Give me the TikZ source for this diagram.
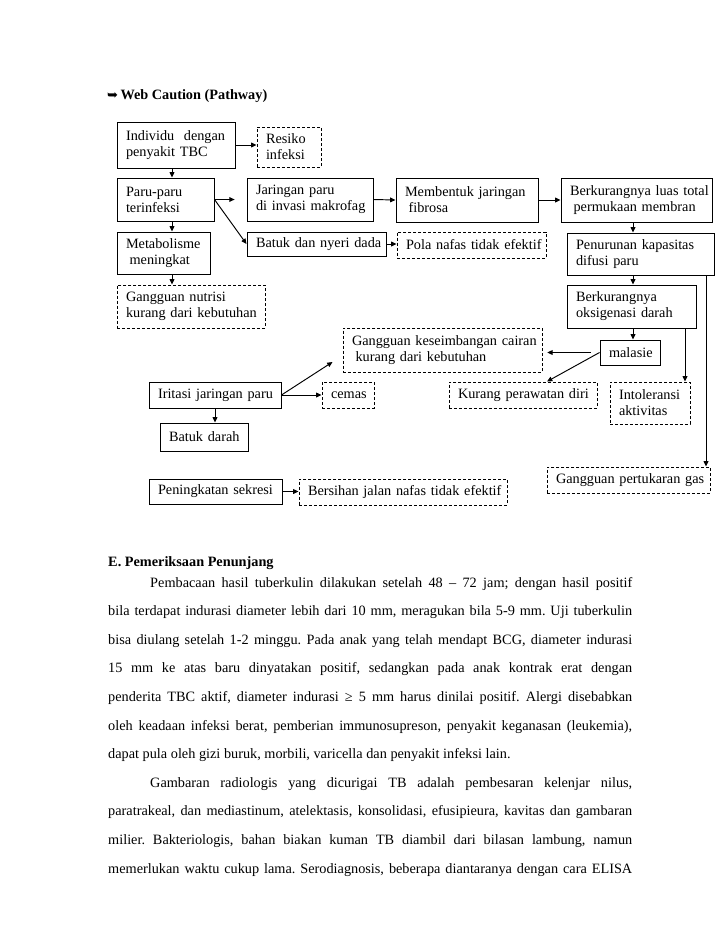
\documentclass[tikz,border=0pt]{standalone}
\usepackage{fontspec}
\setmainfont{Liberation Serif}
\newfontfamily\symfont{DejaVu Sans}
\usetikzlibrary{arrows.meta,calc}
\frenchspacing
\newdimen\pxu \pxu=0.8407pt
\newlength\bodyw \setlength\bodyw{440.5pt}
\newlength\indw \setlength\indw{405.2pt}
\newcommand\nohyph{\hyphenpenalty=10000\exhyphenpenalty=10000\relax}
\tikzset{
  box/.style 2 args={draw, line width=0.8pt, inner xsep=0pt, inner ysep=0pt,
    minimum width=#1*\pxu, minimum height=#2*\pxu, text width=#1*\pxu-18*\pxu,
    align=left, font=\fontsize{12}{13.5}\selectfont, execute at begin node=\nohyph},
  dbox/.style 2 args={box={#1}{#2}, dash pattern=on 2.6pt off 1.6pt},
  arr/.style={-{Triangle[length=4.5pt,width=4pt]}, line width=0.8pt},
  txt/.style={anchor=base west, inner sep=0pt, font=\fontsize{12}{14}\selectfont},
}

\begin{document}
\begin{tikzpicture}[x=0.8407pt,y=-0.8407pt]
  \fill[white] (0,0) rectangle (728,943);
  \useasboundingbox (0,0) rectangle (728,943);

  % title
  \node[txt] (ttl) at (107,99) {{\symfont\fontsize{11}{11}\selectfont ➥}\,\textbf{Web Caution (Pathway)}};

  % boxes
  \node[box={118}{46}] (ind) at (176,145) {Individu~~dengan\\penyakit~TBC};
  \node[dbox={64}{40}] (res) at (289,147) {Resiko\\infeksi};
  \node[box={97}{43}] (paru) at (165.5,199.5) {Paru-paru\\terinfeksi};
  \node[box={126}{43}] (jar) at (310,199.5) {Jaringan~paru\\di~invasi~makrofag};
  \node[box={142}{44}] (fib) at (467,200) {Membentuk~jaringan\\\hspace*{.25em}fibrosa};
  \node[box={151}{44}] (luas) at (636.5,200) {Berkurangnya~luas~total\\\hspace*{.25em}permukaan~membran};
  \node[box={93}{42}] (meta) at (163.5,253) {Metabolisme\\\hspace*{.25em}meningkat};
  \node[box={139}{24}] (btk) at (316.5,244) {Batuk~dan~nyeri~dada};
  \node[dbox={149}{26}] (pola) at (471.5,245) {Pola~nafas~tidak~efektif};
  \node[box={147}{42}] (difu) at (640.5,254) {Penurunan~kapasitas\\difusi~paru};
  \node[dbox={148}{43}] (nut) at (191,306.5) {Gangguan~nutrisi\\kurang~dari~kebutuhan};
  \node[box={129}{43}] (oks) at (631.5,306.5) {Berkurangnya\\oksigenasi~darah};
  \node[dbox={199}{44}] (cai) at (442.5,350) {Gangguan~keseimbangan~cairan\\\hspace*{.25em}kurang~dari~kebutuhan};
  \node[box={60}{25}] (mal) at (630,352.5) {malasie};
  \node[box={132}{26}] (iri) at (215,395) {Iritasi~jaringan~paru};
  \node[dbox={52}{26}] (cem) at (348,395) {cemas};
  \node[dbox={148}{26}] (raw) at (523,395) {Kurang~perawatan~diri};
  \node[dbox={80}{42}] (int) at (650,403) {Intoleransi\\aktivitas};
  \node[box={88}{28}] (bdr) at (204,437) {Batuk~darah};
  \node[dbox={163}{26}] (gas) at (628.5,480) {Gangguan~pertukaran~gas};
  \node[box={133}{25}] (sek) at (215.5,491.5) {Peningkatan~sekresi};
  \node[dbox={208}{26}] (ber) at (403,492) {Bersihan~jalan~nafas~tidak~efektif};

  % connector columns
  \coordinate (c1) at (172,0);
  \coordinate (c2) at (633,0);
  \coordinate (c3) at (685,0);
  \coordinate (c4) at (706,0);

  \draw[arr] (ind.east) -- (ind.east -| res.west);
  \draw[arr] (ind.south -| c1) -- (paru.north -| c1);
  \draw[arr] (paru.south -| c1) -- (meta.north -| c1);
  \draw[arr] (meta.south -| c1) -- (nut.north -| c1);
  \draw[arr, shorten >=10pt] (paru.east) -- (paru.east -| jar.west);
  \draw[arr] (paru.east) -- (btk.west);
  \draw[arr] (jar.east) -- (fib.west);
  \draw[arr] (fib.east) -- (luas.west);
  \draw[arr] (btk.east) -- (btk.east -| pola.west);
  \draw[arr] (luas.south -| c2) -- (difu.north -| c2);
  \draw[arr] (difu.south -| c2) -- (oks.north -| c2);
  \draw[arr] (oks.south -| c2) -- (mal.north -| c2);
  \draw[arr] (oks.south -| c3) -- (int.north -| c3);
  \draw[arr] (difu.south -| c4) -- (gas.north -| c4);
  \draw[arr, shorten <=7pt, shorten >=4pt] (mal.west) -- (mal.west -| cai.east);
  \draw[arr] (mal.west) -- ($(raw.north)+(24,0)$);
  \draw[arr] (iri.east) -- ($(cai.west)+(-10,12)$);
  \draw[arr] (iri.east) -- (cem.west);
  \draw[arr] (iri.south) -- (iri.south |- bdr.north);
  \draw[arr] (sek.east) -- (sek.east -| ber.west);

  % body text
  \node[txt] (hd) at (108,566) {\textbf{E. Pemeriksaan Penunjang}};
  \node[txt] (p1) at (150,587) {\makebox[\indw][s]{Pembacaan hasil tuberkulin dilakukan setelah 48 – 72 jam; dengan hasil positif}};
  \node[txt] (p2) at (108,615.6) {\makebox[\bodyw][s]{bila terdapat indurasi diameter lebih dari 10 mm, meragukan bila 5-9 mm. Uji tuberkulin}};
  \node[txt] (p3) at (108,644.2) {\makebox[\bodyw][s]{bisa diulang setelah 1-2 minggu. Pada anak yang telah mendapt BCG, diameter indurasi}};
  \node[txt] (p4) at (108,672.8) {\makebox[\bodyw][s]{15 mm ke atas baru dinyatakan positif, sedangkan pada anak kontrak erat dengan}};
  \node[txt] (p5) at (108,701.4) {\makebox[\bodyw][s]{penderita TBC aktif, diameter indurasi ≥ 5 mm harus dinilai positif. Alergi disebabkan}};
  \node[txt] (p6) at (108,730) {\makebox[\bodyw][s]{oleh keadaan infeksi berat, pemberian immunosupreson, penyakit keganasan (leukemia),}};
  \node[txt] (p7) at (108,758.6) {dapat pula oleh gizi buruk, morbili, varicella dan penyakit infeksi lain.};
  \node[txt] (p8) at (150,787.2) {\makebox[\indw][s]{Gambaran radiologis yang dicurigai TB adalah pembesaran kelenjar nilus,}};
  \node[txt] (p9) at (108,815.8) {\makebox[\bodyw][s]{paratrakeal, dan mediastinum, atelektasis, konsolidasi, efusipieura, kavitas dan gambaran}};
  \node[txt] (p10) at (108,844.4) {\makebox[\bodyw][s]{milier. Bakteriologis, bahan biakan kuman TB diambil dari bilasan lambung, namun}};
  \node[txt] (p11) at (108,873) {\makebox[\bodyw][s]{memerlukan waktu cukup lama. Serodiagnosis, beberapa diantaranya dengan cara ELISA}};
\end{tikzpicture}
\end{document}
